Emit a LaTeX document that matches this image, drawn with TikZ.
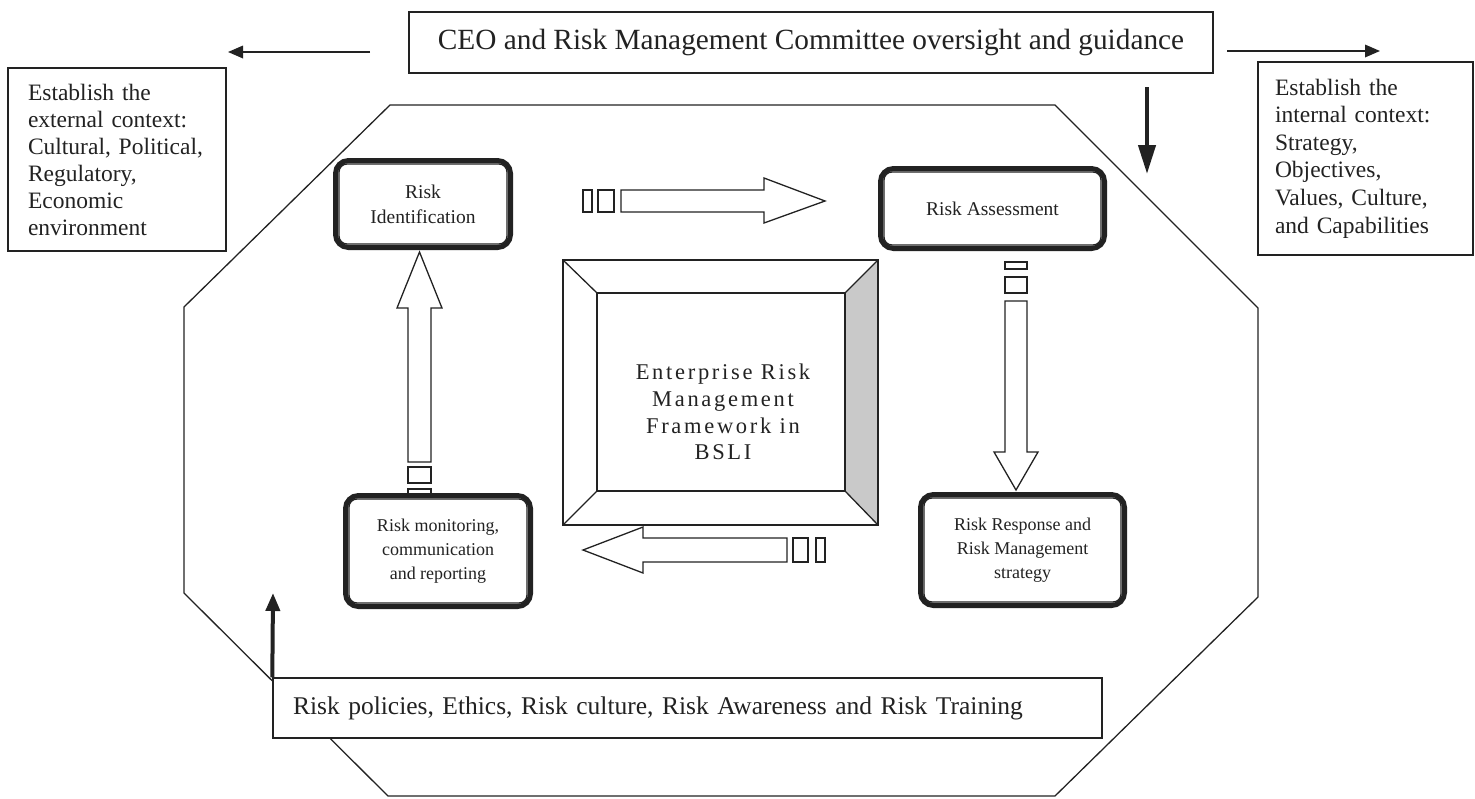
\documentclass[tikz,border=0pt]{standalone}
\usepackage{fontspec}
\setmainfont{Liberation Serif}
\newfontfamily\spacedfont[LetterSpace=12]{Liberation Serif}
\usetikzlibrary{arrows.meta}
\definecolor{ink}{HTML}{222222}
\definecolor{bevel}{HTML}{C9C9C9}
\begin{document}
\begin{tikzpicture}[x=1pt,y=-1pt,
  ln/.style={draw=ink, line width=1.3pt},
  txtbox/.style={draw=ink, line width=1.4pt, fill=white, text=ink},
  rbox/.style={draw=ink, line width=5pt, rounded corners=13pt, fill=white, align=center, text=ink},
  blk/.style={draw=ink, line width=1.3pt, fill=white, line join=miter},
  thinarrow/.style={draw=ink, line width=1.8pt, -{Triangle[length=15pt,width=12.5pt]}}
]
\useasboundingbox (0,0) rectangle (1475,798);

% octagon
\draw[ln] (390,105) -- (1055,105) -- (1258,308) -- (1258,597) -- (1055,796) -- (388,796) -- (184,593) -- (184,307) -- cycle;

% top box
\node[txtbox, minimum width=804, minimum height=61, font=\fontsize{29.3}{35}\selectfont] (ceo) at (811,42.5) {CEO and Risk Management Committee oversight and guidance};

% context boxes
\node[txtbox, minimum height=183, text width=178, inner xsep=20, align=left, font=\fontsize{23.5}{27}\selectfont] (ext) at (117,159.5) {Establish the\\external context:\\Cultural, Political,\\Regulatory,\\Economic\\environment};
\node[txtbox, minimum height=193, text width=181, inner xsep=17, align=left, font=\fontsize{23.5}{27.6}\selectfont] (int) at (1365.5,158.5) {Establish the\\internal context:\\Strategy,\\Objectives,\\Values, Culture,\\and Capabilities};

% bottom box
\node[txtbox, minimum height=60, text width=789, inner xsep=20, align=left, font=\fontsize{25.5}{31}\selectfont] (bot) at (687.5,708) {Risk policies, Ethics, Risk culture, Risk Awareness and Risk Training};

% thin arrows
\coordinate (la0) at (370,52);
\coordinate (la1) at (228,52);
\coordinate (ra0) at (1227,51);
\coordinate (ra1) at (1380,51);
\coordinate (da0) at (1147,87);
\coordinate (da1) at (1147,174);
\coordinate (ua1) at (273,593);
\draw[thinarrow] (la0) -- (la1);
\draw[thinarrow] (ra0) -- (ra1);
\draw[draw=ink, line width=4.3pt, -{Triangle[length=29pt,width=17pt]}] (da0) -- (da1);
\draw[draw=ink, line width=4pt, -{Triangle[length=18pt,width=14pt]}] (bot.north west) -- (ua1);

% central frame
\fill[bevel] (878,260) -- (845,293) -- (845,491) -- (878,525) -- cycle;
\draw[ln] (563,260) rectangle (878,525);
\draw[ln] (597,293) rectangle (845,491);
\draw[ln] (563,260) -- (597,293);
\draw[ln] (878,260) -- (845,293);
\draw[ln] (563,525) -- (597,491);
\draw[ln] (878,525) -- (845,491);
\node[text=ink, align=center, font=\spacedfont\fontsize{22.5}{26.7}\selectfont] (erm) at (723,412) {Enterprise Risk\\Management\\Framework in\\BSLI};

% block arrows
% right
\draw[blk] (583,190) rectangle (592,212);
\draw[blk] (598,190) rectangle (614,212);
\draw[blk] (621,190) -- (764,190) -- (764,178) -- (825,201) -- (764,223) -- (764,212) -- (621,212) -- cycle;
% down
\draw[blk] (1005,262) rectangle (1027,269);
\draw[blk] (1005,277) rectangle (1027,293);
\draw[blk] (1005,301) -- (1005,452) -- (994,452) -- (1016,490) -- (1038,452) -- (1027,452) -- (1027,301) -- cycle;
% up
\draw[blk] (408,489) rectangle (431,497);
\draw[blk] (408,467) rectangle (431,483);
\draw[blk] (408,462) -- (408,308) -- (397,308) -- (419.5,252) -- (442,308) -- (431,308) -- (431,462) -- cycle;
% left
\draw[blk] (793,538) rectangle (808,562);
\draw[blk] (816,538) rectangle (825,562);
\draw[blk] (787,538) -- (643,538) -- (643,527) -- (583,550) -- (643,573) -- (643,562) -- (787,562) -- cycle;

% process boxes
\node[rbox, minimum width=175, minimum height=87, font=\fontsize{19.5}{25}\selectfont] (ri) at (423,204) {Risk\\Identification};
\node[rbox, minimum width=224, minimum height=80, font=\fontsize{19.5}{25}\selectfont] (ra) at (992.5,208.5) {Risk Assessment};
\node[rbox, minimum width=204, minimum height=111, font=\fontsize{18}{24}\selectfont] (rr) at (1022.5,550) {Risk Response and\\Risk Management\\strategy};
\node[rbox, minimum width=185, minimum height=111, font=\fontsize{18}{24}\selectfont] (rm) at (438,551) {Risk monitoring,\\communication\\and reporting};
\foreach \n in {ri,ra,rr,rm}
  \draw[draw=ink, line width=1.3pt, rounded corners=8pt] ([xshift=6pt,yshift=-6pt]\n.north west) rectangle ([xshift=-6pt,yshift=6pt]\n.south east);
\end{tikzpicture}
\end{document}
